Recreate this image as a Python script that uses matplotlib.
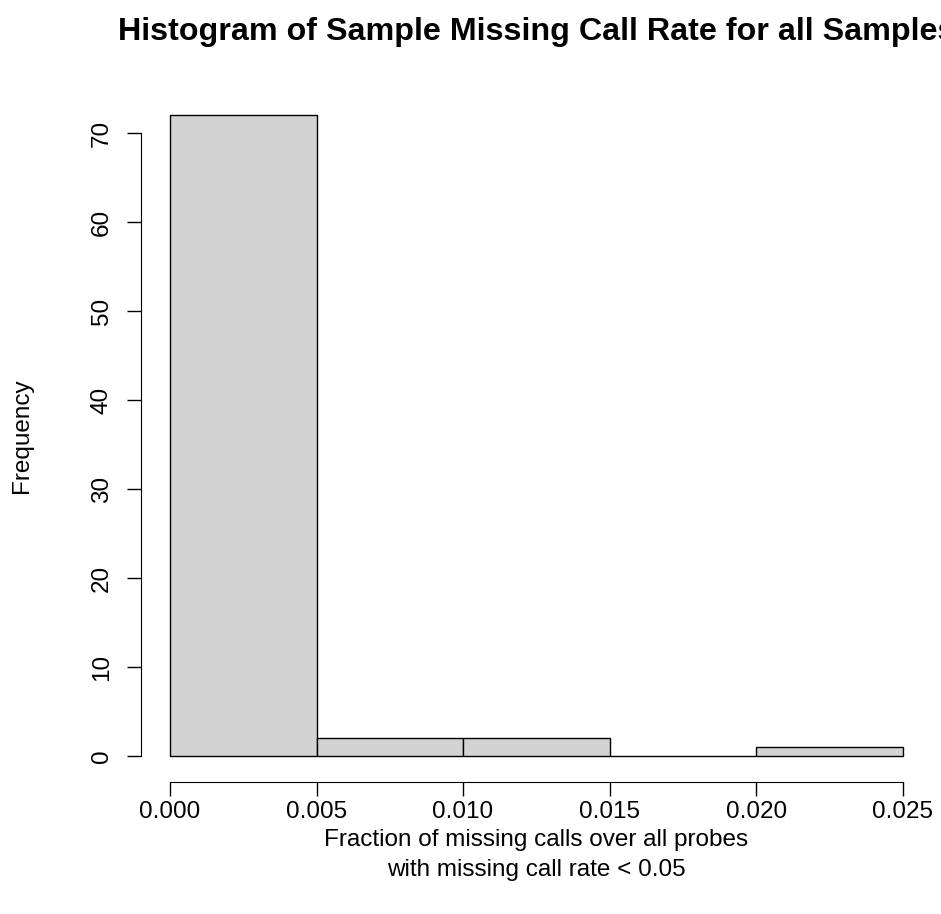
import matplotlib
matplotlib.use("Agg")
import matplotlib.pyplot as plt

plt.rcParams['font.family'] = ['Liberation Sans', 'DejaVu Sans']

bin_edges = [0.000, 0.005, 0.010, 0.015, 0.020, 0.025]
counts = [72, 2, 2, 0, 1]
x_ticks = [0.000, 0.005, 0.010, 0.015, 0.020, 0.025]
x_labels = ["0.000", "0.005", "0.010", "0.015", "0.020", "0.025"]
y_ticks = [0, 10, 20, 30, 40, 50, 60, 70]

fig = plt.figure(figsize=(9.41, 9.14), dpi=100)
ax = fig.add_axes([0.1495, 0.1449, 0.8409, 0.757])

lefts = bin_edges[:-1]
widths = [b - a for a, b in zip(bin_edges[:-1], bin_edges[1:])]
ax.bar(lefts, counts, width=widths, align='edge', color='#D3D3D3',
       edgecolor='black', linewidth=1.0)

ax.set_xlim(-0.001, 0.026)
ax.set_ylim(-2.88, 74.88)
for s in ['top', 'right']:
    ax.spines[s].set_visible(False)
ax.spines['left'].set_bounds(0, 70)
ax.spines['bottom'].set_bounds(0, 0.025)
ax.set_xticks(x_ticks)
ax.set_xticklabels(x_labels)
ax.set_yticks(y_ticks)
ax.set_yticklabels([str(v) for v in y_ticks], rotation=90, va='center')
ax.tick_params(length=10, width=1, labelsize=17.5)
ax.tick_params(axis='x', pad=4)
ax.tick_params(axis='y', pad=10)

ax.set_xlabel("Fraction of missing calls over all probes\nwith missing call rate < 0.05",
              fontsize=17.5, labelpad=4, linespacing=1.5)
ax.set_ylabel("Frequency", fontsize=17.5, labelpad=42)
ax.set_title("Histogram of Sample Missing Call Rate for all Samples",
             fontsize=23.2, fontweight='bold', pad=36)

fig.savefig("out.png", dpi=100)
